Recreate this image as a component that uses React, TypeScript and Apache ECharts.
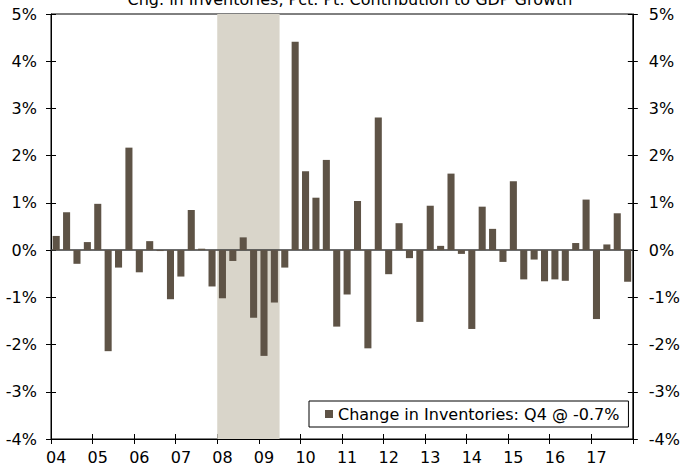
import React, { useEffect, useRef } from "react";
import * as echarts from "echarts";

const years = ["04", "05", "06", "07", "08", "09", "10", "11", "12", "13", "14", "15", "16", "17"];
const quarters = ["Q1", "Q2", "Q3", "Q4"];
const categories = years.flatMap((y) => quarters.map((q) => `${y} ${q}`));

// Change in private inventories, percentage-point contribution to real GDP growth
const inventoryContribution = [
  0.3, 0.8, -0.29, 0.17,
  0.98, -2.14, -0.37, 2.17,
  -0.47, 0.19, -0.02, -1.04,
  -0.56, 0.85, 0.03, -0.77,
  -1.02, -0.23, 0.27, -1.43,
  -2.24, -1.11, -0.37, 4.41,
  1.67, 1.11, 1.91, -1.62,
  -0.94, 1.04, -2.08, 2.81,
  -0.51, 0.57, -0.17, -1.52,
  0.94, 0.09, 1.62, -0.08,
  -1.67, 0.92, 0.45, -0.25,
  1.46, -0.62, -0.2, -0.66,
  -0.62, -0.65, 0.15, 1.07,
  -1.46, 0.12, 0.78, -0.67,
];

const seriesName = "Change in Inventories: Q4 @ -0.7%";
const titleText = "Chg. in Inventories, Pct. Pt. Contribution to GDP Growth";
const recessionStart = "08 Q1";
const recessionEnd = "09 Q2";
const yMin = -4;
const yMax = 5;

const FONT = "DejaVu Sans";
const BAR = "#5e5346";
const SHADE = "#d9d5ca";

export default function App() {
  const ref = useRef<HTMLDivElement>(null);

  useEffect(() => {
    if (!ref.current) return;
    const chart = echarts.init(ref.current, undefined, { renderer: "svg" });
    const startIdx = categories.indexOf(recessionStart);
    const endIdx = categories.indexOf(recessionEnd) + 1;
    const axisLineStyle = { color: "#000", width: 1 };
    const labelStyle = { fontFamily: FONT, fontSize: 16, color: "#000" };

    chart.setOption({
      animation: false,
      textStyle: { fontFamily: FONT },
      grid: {
        left: 51,
        right: 45,
        top: 14,
        bottom: 28,
        containLabel: false,
        show: true,
        borderColor: "#000",
        borderWidth: 1,
        backgroundColor: "transparent",
      },
      graphic: [
        {
          type: "text",
          x: 350,
          y: 7.5,
          z: 10,
          style: {
            text: titleText,
            fontFamily: FONT,
            fontSize: 16,
            fill: "#000",
            align: "center",
            verticalAlign: "bottom",
          },
        },
      ],
      legend: {
        show: true,
        left: 309,
        top: 401,
        data: [seriesName],
        icon: "rect",
        itemWidth: 8,
        itemHeight: 8,
        borderColor: "#000",
        borderWidth: 1,
        padding: [5, 9, 5, 16],
        backgroundColor: "#fff",
        textStyle: { ...labelStyle },
        selectedMode: false,
      },
      xAxis: [
        {
          type: "category",
          data: categories,
          boundaryGap: true,
          position: "bottom",
          axisLine: { show: true, onZero: false, lineStyle: axisLineStyle },
          axisTick: { show: true, interval: 3, length: 5, inside: false, lineStyle: axisLineStyle },
          axisLabel: {
            ...labelStyle,
            interval: 3,
            margin: 10,
            formatter: (v: string) => v.slice(0, 2),
          },
          splitLine: { show: false },
        },
        {
          type: "value",
          min: 0,
          max: categories.length,
          show: false,
        },
        {
          type: "category",
          data: categories,
          boundaryGap: true,
          position: "bottom",
          axisLine: { show: false, onZero: false },
          axisTick: { show: true, interval: 3, length: 5, inside: true, lineStyle: axisLineStyle },
          axisLabel: { show: false },
          splitLine: { show: false },
        },
      ],
      yAxis: [
        {
          type: "value",
          position: "left",
          min: yMin,
          max: yMax,
          interval: 1,
          axisLine: { show: true, onZero: false, lineStyle: axisLineStyle },
          axisTick: { show: true, length: 5, inside: false, lineStyle: axisLineStyle },
          axisLabel: { ...labelStyle, margin: 14, formatter: "{value}%" },
          splitLine: { show: false },
        },
        {
          type: "value",
          position: "right",
          min: yMin,
          max: yMax,
          interval: 1,
          axisLine: { show: true, onZero: false, lineStyle: axisLineStyle },
          axisTick: { show: true, length: 5, inside: false, lineStyle: axisLineStyle },
          axisLabel: { ...labelStyle, margin: 16, formatter: "{value}%" },
          splitLine: { show: false },
        },
        {
          type: "value",
          position: "left",
          min: yMin,
          max: yMax,
          interval: 1,
          axisLine: { show: false, onZero: false },
          axisTick: { show: true, length: 5, inside: true, lineStyle: axisLineStyle },
          axisLabel: { show: false },
          splitLine: { show: false },
        },
        {
          type: "value",
          position: "right",
          min: yMin,
          max: yMax,
          interval: 1,
          axisLine: { show: false, onZero: false },
          axisTick: { show: true, length: 5, inside: true, lineStyle: axisLineStyle },
          axisLabel: { show: false },
          splitLine: { show: false },
        },
      ],
      series: [
        {
          name: "recession",
          type: "line",
          xAxisIndex: 1,
          yAxisIndex: 0,
          data: [],
          silent: true,
          z: 1,
          markArea: {
            silent: true,
            itemStyle: { color: SHADE, opacity: 1 },
            data: [[{ xAxis: startIdx }, { xAxis: endIdx }]],
          },
        },
        {
          name: seriesName,
          type: "bar",
          xAxisIndex: 0,
          yAxisIndex: 0,
          data: inventoryContribution,
          barWidth: "68%",
          itemStyle: { color: BAR },
          z: 3,
          markLine: {
            silent: true,
            symbol: "none",
            label: { show: false },
            lineStyle: { color: "#3a3a3a", width: 1.5, type: "solid" },
            data: [{ yAxis: 0 }],
            z: 2,
          },
        },
      ],
    });
    return () => chart.dispose();
  }, []);

  return (
    <div
      ref={ref}
      style={{ position: "absolute", left: 0, top: 0, width: 683, height: 467 }}
    />
  );
}
